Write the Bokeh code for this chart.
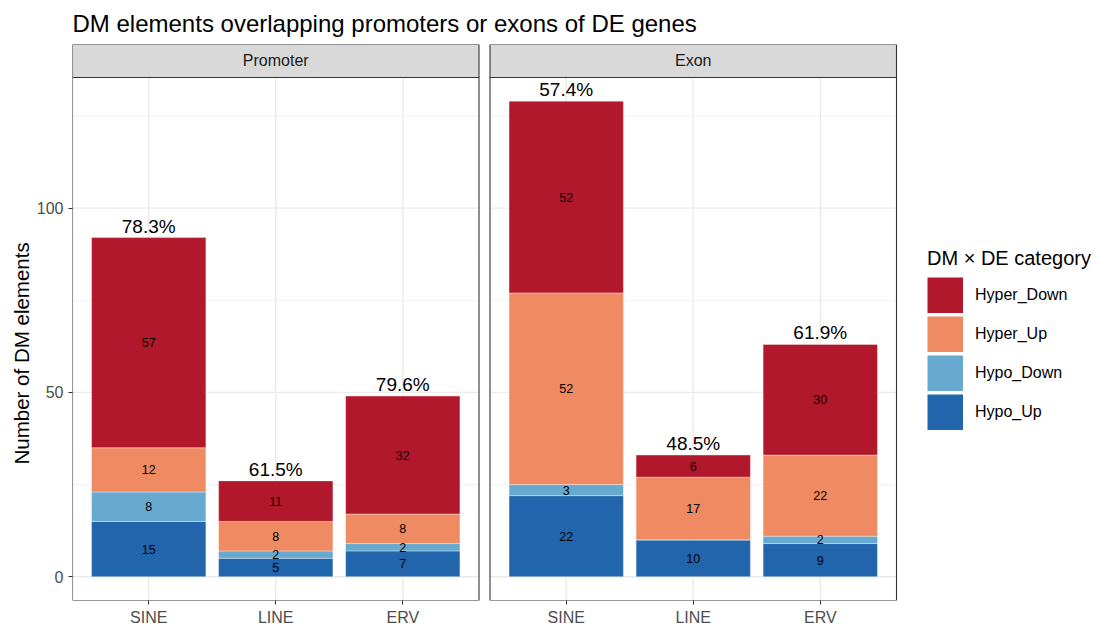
from bokeh.plotting import figure
from bokeh.models import (ColumnDataSource, Range1d, FixedTicker, Legend, LegendItem, Title)
from bokeh.core.properties import value
from bokeh.embed import file_html
from bokeh.resources import INLINE

# ---------------- data ----------------
panels = ["Promoter", "Exon"]
categories = ["SINE", "LINE", "ERV"]
series = ["Hypo_Up", "Hypo_Down", "Hyper_Up", "Hyper_Down"]  # bottom -> top
colors = ["#2166AC", "#67A9CF", "#EF8A62", "#B2182B"]
# values in order: Promoter SINE, LINE, ERV, Exon SINE, LINE, ERV
hypo_up = [15, 5, 7, 22, 10, 9]
hypo_down = [8, 2, 2, 3, 0, 2]
hyper_up = [12, 8, 8, 52, 17, 22]
hyper_down = [57, 11, 32, 52, 6, 30]

FONT = "Liberation Sans"

# ---------------- layout constants ----------------
W, H = 1097, 628
ML, MT, MB = 72, 44, 27
frame_w = W - ML
frame_h = H - MT - MB
panel_px = 406.5
gap_px = 11
strip_px = 33
ppx = panel_px / 3.2                 # px per x unit
offset = 3.2 + gap_px / ppx          # x offset of 2nd panel

values = [hypo_up, hypo_down, hyper_up, hyper_down]
totals = [sum(v) for v in zip(*values)]
ymax = max(totals)
y0, y1 = -0.05 * ymax, ymax * 1.05
ppy = (frame_h - strip_px) / (y1 - y0)
ytop = y1 + strip_px / ppy

xs = []
labels_x = {}
for pi, pn in enumerate(panels):
    for ci, cn in enumerate(categories):
        x = ci + 1 + pi * offset
        xs.append(x)
        labels_x[x] = cn

src = ColumnDataSource(dict(x=xs, **{s: v for s, v in zip(series, values)}))

p = figure(width=W, height=H, output_backend="svg", toolbar_location=None,
           x_range=Range1d(0.4, 0.4 + frame_w / ppx), y_range=Range1d(y0, ytop),
           min_border_left=ML, min_border_right=0, min_border_top=MT, min_border_bottom=MB,
           title="DM elements overlapping promoters or exons of DE genes")
p.outline_line_color = None
p.xgrid.visible = False
p.ygrid.visible = False
p.background_fill_color = "white"
p.border_fill_color = "white"

p.title.text_font = FONT
p.title.text_font_size = "24px"
p.title.text_font_style = "normal"
p.title.text_color = "black"
p.title.align = "left"
p.title.standoff = 15

# ---------------- grid lines per panel ----------------
gx0, gx1, gy0, gy1, gw = [], [], [], [], []
for pi in range(len(panels)):
    off = pi * offset
    for ci in range(len(categories)):
        gx0.append(ci + 1 + off); gx1.append(ci + 1 + off)
        gy0.append(y0); gy1.append(y1); gw.append(1.4)
    for yv, w in [(0, 1.4), (25, 0.7), (50, 1.4), (75, 0.7), (100, 1.4), (125, 0.7)]:
        gx0.append(0.4 + off); gx1.append(3.6 + off)
        gy0.append(yv); gy1.append(yv); gw.append(w)
p.segment(x0=gx0, x1=gx1, y0=gy0, y1=gy1, line_color="#EBEBEB", line_width=gw)

# ---------------- bars ----------------
rends = p.vbar_stack(series, x="x", width=0.9, color=colors, source=src,
                     line_color="white", line_width=0.6, line_alpha=0.6)

# segment labels
lx, ly, lt = [], [], []
for i, x in enumerate(xs):
    base = 0
    for v in values:
        val = v[i]
        if val > 0:
            lx.append(x); ly.append(base + val / 2); lt.append(str(val))
        base += val
p.text(x=lx, y=ly, text=lt, text_align="center", text_baseline="middle",
       text_font=value(FONT), text_font_size="12.5px", text_color="black")

# percent labels: concordant (Hyper_Down + Hypo_Up) / total
pct = ["%.1f%%" % (100.0 * (hd + hu) / t) for hd, hu, t in zip(hyper_down, hypo_up, totals)]
p.text(x=xs, y=totals, text=pct, text_align="center", text_baseline="bottom", y_offset=-1,
       text_font=value(FONT), text_font_size="19px", text_color="black")

# ---------------- panel borders & strips ----------------
pl = [0.4 + pi * offset for pi in range(len(panels))]
pr = [3.6 + pi * offset for pi in range(len(panels))]
p.quad(left=pl, right=pr, bottom=[y0] * 2, top=[y1] * 2, fill_color=None,
       line_color="#333333", line_width=1.1)
p.quad(left=pl, right=pr, bottom=[y1] * 2, top=[ytop] * 2, fill_color="#D9D9D9",
       line_color="#333333", line_width=1.1)
p.text(x=[(a + b) / 2 for a, b in zip(pl, pr)], y=[(y1 + ytop) / 2] * 2, text=panels,
       text_align="center", text_baseline="middle", text_font=value(FONT),
       text_font_size="16px", text_color="#1A1A1A")

# ---------------- axes ----------------
p.yaxis.ticker = FixedTicker(ticks=[0, 50, 100], minor_ticks=[])
p.yaxis.axis_line_color = None
p.yaxis.major_tick_line_color = "#333333"
p.yaxis.major_tick_out = 4
p.yaxis.major_tick_in = 0
p.yaxis.minor_tick_line_color = None
p.yaxis.major_label_text_font = FONT
p.yaxis.major_label_text_font_size = "16px"
p.yaxis.major_label_text_color = "#4D4D4D"
p.yaxis.major_label_standoff = 5

# y axis title placed as a side title, centred on the panel area
ytitle = Title(text="Number of DM elements", align="left", offset=136, standoff=2,
               text_font=FONT, text_font_size="20.5px", text_font_style="normal",
               text_color="black")
p.add_layout(ytitle, "left")

p.xaxis.ticker = FixedTicker(ticks=xs, minor_ticks=[])
p.xaxis.major_label_overrides = labels_x
p.xaxis.axis_line_color = None
p.xaxis.major_tick_line_color = "#333333"
p.xaxis.major_tick_out = 4
p.xaxis.major_tick_in = 0
p.xaxis.minor_tick_line_color = None
p.xaxis.major_label_text_font = FONT
p.xaxis.major_label_text_font_size = "16px"
p.xaxis.major_label_text_color = "#4D4D4D"
p.xaxis.major_label_standoff = 4

# ---------------- legend (keys drawn as thick butt-capped lines) ----------------
nan = float("nan")
items = []
for s, c in list(zip(series, colors))[::-1]:
    r = p.line(x=[nan], y=[nan], line_color=c, line_width=36, line_cap="butt")
    items.append(LegendItem(label=s, renderers=[r]))
leg = Legend(items=items, location=(855, 170), title="DM × DE category")
leg.title_text_font = FONT
leg.title_text_font_size = "20px"
leg.title_text_font_style = "normal"
leg.title_text_color = "black"
leg.title_standoff = 7
leg.label_text_font = FONT
leg.label_text_font_size = "16px"
leg.label_text_color = "black"
leg.glyph_width = 36
leg.glyph_height = 36
leg.label_height = 36
leg.spacing = 3
leg.label_standoff = 12
leg.padding = 0
leg.margin = 0
leg.border_line_color = None
leg.background_fill_alpha = 0
p.add_layout(leg)

open("out.html", "w").write(file_html(p, INLINE))
